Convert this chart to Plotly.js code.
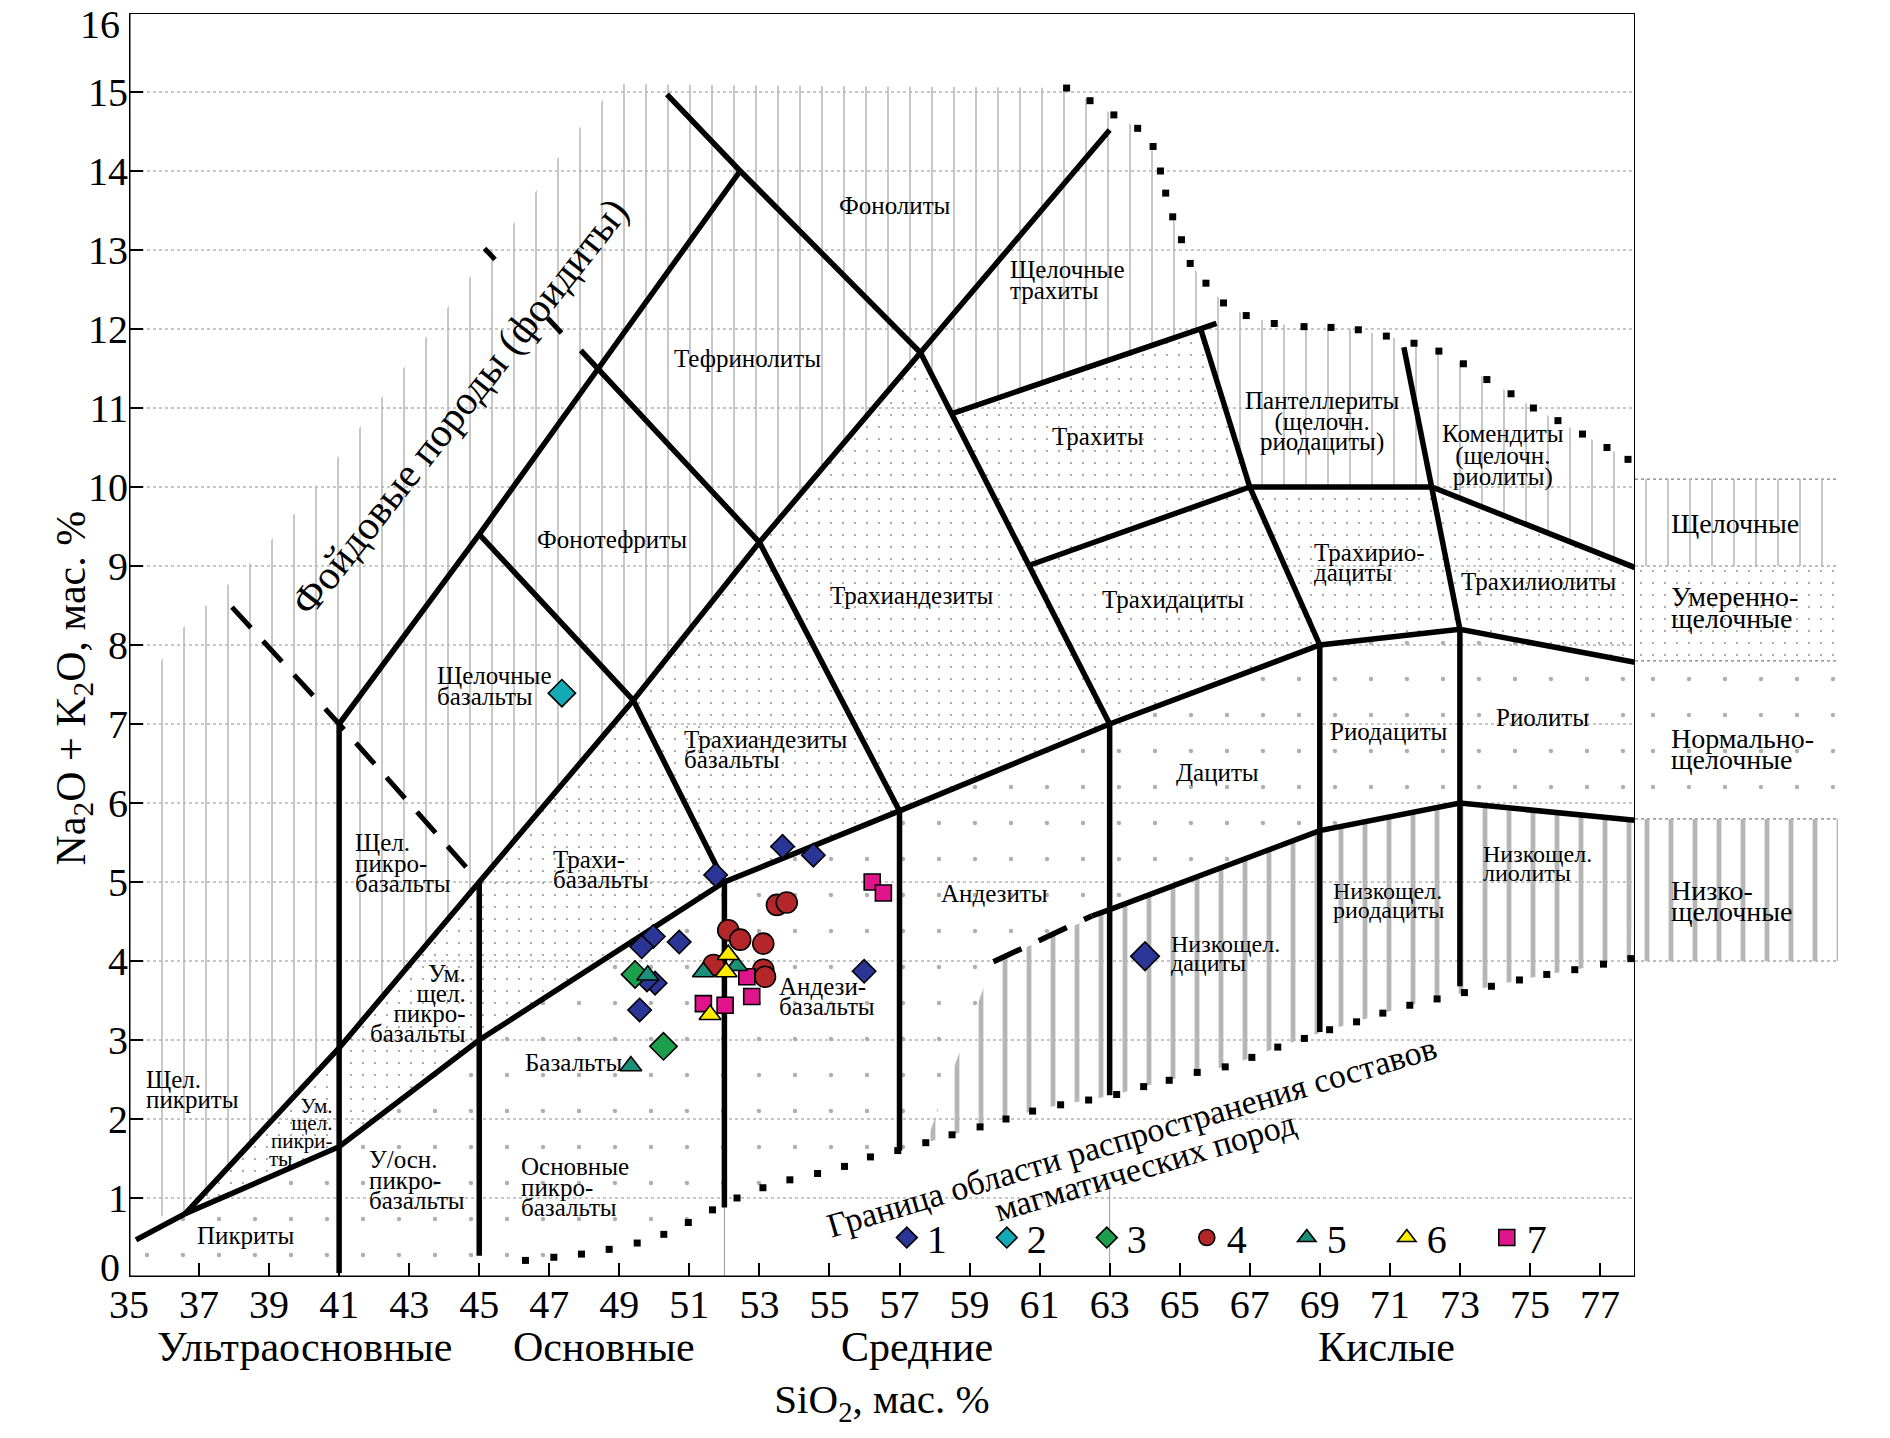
<!DOCTYPE html>
<html><head><meta charset="utf-8">
<script src="https://cdn.plot.ly/plotly-3.0.1.min.js"></script>
<style>html,body{margin:0;padding:0;background:#fff;}#chart{width:1890px;height:1438px;}</style>
</head><body><div id="chart"></div>
<script>
const FONT = 'Liberation Serif, Times New Roman, serif';

// ---------- axis ticks ----------
const xTickVals = [35,37,39,41,43,45,47,49,51,53,55,57,59,61,63,65,67,69,71,73,75,77];
const yTickVals = [1,2,3,4,5,6,7,8,9,10,11,12,13,14,15];
const yEdgeLabels = ['0', '16'];
const gridY = [1,2,3,4,5,6,7,8,9,10,11,12,13,14,15];

// ---------- TAS boundary polylines ----------
const lowAlkX = [35.2, 36.6, 41, 45, 52, 57, 63, 69, 73, 78];
const lowAlkY = [0.47, 0.8, 1.65, 3.0, 5.0, 5.9, 7.0, 8.0, 8.2, 7.78];
const alkX = [36.6, 41, 45, 49.4, 53, 57.6, 63];
const alkY = [0.8, 2.9, 5.0, 7.3, 9.3, 11.7, 14.52];
const foidUpperX = [41, 45, 48.4, 52.45];
const foidUpperY = [7.0, 9.4, 11.5, 14.0];
const phonoX = [50.36, 52.45, 57.6];
const phonoY = [14.97, 14.0, 11.7];
const trachyteLeftX = [57.6, 63];
const trachyteLeftY = [11.7, 7.0];
const tephX = [45, 49.4, 52];
const tephY = [9.4, 7.3, 5.0];
const tephPhX = [47.9, 53, 57];
const tephPhY = [11.73, 9.3, 5.9];
const vertX = [41, 45, 52, 57, 63, 69, 73];
const vertTop = [7.0, 5.0, 5.0, 5.9, 7.0, 8.0, 8.2];
const vertBottom = [0.05, 0.27, 0.88, 1.6, 2.3, 3.1, 3.68];
const trachyteTopX = [58.5, 66.05];
const trachyteTopY = [10.93, 12.07];
const pantX = [65.6, 67];
const pantY = [12.0, 10.0];
const alkRightX = [67, 72.2, 78];
const alkRightY = [10.0, 10.0, 8.98];
const trachydaciteTopX = [60.65, 67];
const trachydaciteTopY = [9.0, 10.0];
const rhyoDivX = [67, 69];
const rhyoDivY = [10.0, 8.0];
const komX = [71.4, 72.2, 73];
const komY = [11.77, 10.0, 8.2];
const lowKDashX = [59.68, 62.49];
const lowKDashY = [3.99, 4.57];
const lowKX = [62.49, 63, 69, 73, 78];
const lowKY = [4.57, 4.65, 5.65, 6.0, 5.78];
const foidDashX = [37.94, 41, 45];
const foidDashY = [8.48, 7.0, 5.0];
const foidFragX = [45.15, 45.45, null, 46.95, 47.35];
const foidFragY = [13.02, 12.88, null, 12.14, 11.95];

// dotted boundaries of the field of igneous rock compositions
const upperDotX = [61.77, 62.44, 63.12, 63.8, 64.24, 64.45, 64.6, 64.8, 65.05, 65.3, 65.75, 66.25, 66.9, 67.7, 68.55, 69.32, 70.1, 70.9, 71.69, 72.4, 73.1, 73.77, 74.46, 75.1, 75.8, 76.5, 77.2, 77.8];
const upperDotY = [15.05, 14.89, 14.71, 14.54, 14.31, 14.0, 13.72, 13.42, 13.13, 12.83, 12.58, 12.33, 12.17, 12.07, 12.03, 12.02, 11.99, 11.91, 11.82, 11.72, 11.56, 11.36, 11.18, 11.0, 10.84, 10.67, 10.5, 10.35];
const lowerDotX = [46.32, 47.13, 47.92, 48.71, 49.51, 50.27, 50.97, 51.66, 52.36, 53.1, 53.87, 54.66, 55.43, 56.17, 56.95, 57.75, 58.5, 59.3, 60.04, 60.8, 61.6, 62.4, 63.2, 63.97, 64.7, 65.5, 66.3, 67.06, 67.8, 68.56, 69.28, 70.05, 70.8, 71.57, 72.35, 73.13, 73.9, 74.7, 75.48, 76.28, 77.1, 77.88];
const lowerDotY = [0.21, 0.25, 0.29, 0.35, 0.43, 0.54, 0.69, 0.85, 1.0, 1.13, 1.23, 1.31, 1.40, 1.52, 1.6, 1.70, 1.8, 1.9, 2.0, 2.1, 2.18, 2.24, 2.31, 2.41, 2.49, 2.59, 2.66, 2.78, 2.91, 3.02, 3.13, 3.23, 3.34, 3.44, 3.52, 3.6, 3.68, 3.76, 3.83, 3.89, 3.96, 4.03];

// ---------- series zones (pattern outlines) ----------
const foidEdgeX = [48.9, 47.6, 46.1, 44.8, 42.5, 40.0, 38.5, 36.5, 35.35, 35.35];
const foidEdgeY = [15.1, 14.4, 13.4, 12.7, 11.3, 9.8, 9.05, 8.2, 7.4, 0.75];
const alkZoneX = [36.6, 41, 45, 49.4, 53, 57.6, 58.5, 65.6, 67, 72.2, 78, 78].concat(upperDotX.slice().reverse(), foidEdgeX);
const alkZoneY = [0.8, 2.9, 5.0, 7.3, 9.3, 11.7, 10.93, 12.03, 10.0, 10.0, 8.98, 10.35].concat(upperDotY.slice().reverse(), foidEdgeY);
const modZoneX = [36.6, 41, 45, 49.4, 53, 57.6, 58.5, 65.6, 67, 72.2, 78, 78, 73, 69, 63, 57, 52, 45, 41];
const modZoneY = [0.8, 2.9, 5.0, 7.3, 9.3, 11.7, 10.93, 12.03, 10.0, 10.0, 8.98, 7.78, 8.2, 8.0, 7.0, 5.9, 5.0, 3.0, 1.65];
const normZoneX = lowAlkX.concat([78, 73, 69, 63, 59.68], lowerDotX.slice(0, 16).reverse(), [35.2]);
const normZoneY = lowAlkY.concat([5.78, 6.0, 5.65, 4.65, 3.99], lowerDotY.slice(0, 16).reverse(), [0.2]);
const lowZoneX = [57.75, 59.68, 63, 69, 73, 78].concat(lowerDotX.slice(15).reverse());
const lowZoneY = [1.70, 3.99, 4.65, 5.65, 6.0, 5.78].concat(lowerDotY.slice(15).reverse());
// side scale boxes (Na2O+K2O limits of series)
const boxX = [78, 83.8, 83.8, 78];
const boxAlkY = [9.0, 9.0, 10.1, 10.1];
const boxModY = [7.8, 7.8, 9.0, 9.0];
const boxNormY = [5.8, 5.8, 7.8, 7.8];
const boxLowY = [4.0, 4.0, 5.8, 5.8];
const boxLines = [10.1, 9.0, 7.8, 5.8, 4.0];

// ---------- sample compositions ----------
const s1x = [51.75, 53.66, 54.54, 49.97, 49.64, 50.71, 50.02, 49.79, 49.58, 55.99, 64.01];
const s1y = [5.09, 5.45, 5.34, 4.31, 4.18, 4.24, 3.72, 3.76, 3.38, 3.87, 4.06];
const s2x = [47.36];
const s2y = [7.39];
const s3x = [49.45, 50.26];
const s3y = [3.83, 2.92];
const s4x = [53.5, 53.78, 52.11, 52.45, 53.11, 51.69, 53.11, 53.16];
const s4y = [4.71, 4.74, 4.39, 4.27, 4.22, 3.95, 3.89, 3.80];
const s5x = [49.81, 51.4, 52.35, 49.33];
const s5y = [3.82, 3.86, 3.94, 2.67];
const s6x = [52.11, 52.05, 51.59];
const s6y = [4.08, 3.86, 3.32];
const s7x = [56.22, 56.54, 51.4, 52.02, 52.78, 52.64];
const s7y = [5.0, 4.86, 3.46, 3.44, 3.55, 3.8];

// ---------- build traces ----------
const traces = [];
function zone(x, y, shape, size, sol, color, xa) {
  traces.push({type:'scatter', mode:'lines', x:x, y:y, xaxis: xa || 'x', fill:'toself',
    fillcolor:'rgba(0,0,0,0)', line:{width:0, color:'rgba(0,0,0,0)'},
    fillpattern:{shape:shape, size:size, solidity:sol, fgcolor:color, bgcolor:'rgba(0,0,0,0)'},
    hoverinfo:'skip', showlegend:false});
}
const PAT = {
  alk: ['|', 22, 0.07, '#b8b8b8'],
  mod: ['.', 12, 0.02, '#8a8a8a'],
  norm: ['.', 36, 0.012, '#b0b0b0'],
  low: ['|', 24, 0.2, '#b6b6b6']
};
zone(alkZoneX, alkZoneY, ...PAT.alk);
zone(modZoneX, modZoneY, ...PAT.mod);
zone(normZoneX, normZoneY, ...PAT.norm);
zone(lowZoneX, lowZoneY, ...PAT.low);
zone(boxX, boxAlkY, ...PAT.alk, 'x2');
zone(boxX, boxModY, ...PAT.mod, 'x2');
zone(boxX, boxNormY, ...PAT.norm, 'x2');
zone(boxX, boxLowY, ...PAT.low, 'x2');

function line(x, y, w, dash) {
  traces.push({type:'scatter', mode:'lines', x:x, y:y, line:{color:'#000', width:w, dash:dash || 'solid'},
    hoverinfo:'skip', showlegend:false, connectgaps:false});
}
const LW = 5.5;
line(lowAlkX, lowAlkY, LW);
line(alkX, alkY, LW);
line(foidUpperX, foidUpperY, LW);
line(phonoX, phonoY, LW);
line(trachyteLeftX, trachyteLeftY, LW);
line(tephX, tephY, LW);
line(tephPhX, tephPhY, LW);
vertX.forEach((v, i) => line([v, v], [vertTop[i], vertBottom[i]], LW));
line(trachyteTopX, trachyteTopY, LW);
line(pantX, pantY, LW);
line(alkRightX, alkRightY, LW);
line(trachydaciteTopX, trachydaciteTopY, LW);
line(rhyoDivX, rhyoDivY, LW);
line(komX, komY, LW);
line(lowKDashX, lowKDashY, LW, '31px,19px');
line(lowKX, lowKY, LW);
line(foidDashX, foidDashY, 5, '28px,18px');
line(foidFragX, foidFragY, 5);

function dots(x, y) {
  traces.push({type:'scatter', mode:'markers', x:x, y:y, marker:{symbol:'square', size:7, color:'#000', opacity:1},
    hoverinfo:'skip', showlegend:false});
}
dots(upperDotX, upperDotY);
dots(lowerDotX, lowerDotY);

function series(name, x, y, symbol, color, size, rank) {
  traces.push({type:'scatter', mode:'markers', name:name, x:x, y:y, legendrank:rank,
    marker:{symbol:symbol, color:color, size:size, opacity:1, line:{color:'#000', width:1.6}},
    hoverinfo:'skip', showlegend:true});
}
series('1', s1x, s1y, 'diamond', '#2b3596', s1x.map((v, i) => i === s1x.length - 1 ? 22 : 18), 1);
series('3', s3x, s3y, 'diamond', '#1c9f4c', 21, 3);
series('4', s4x, s4y, 'circle', '#b3262a', 21, 4);
series('7', s7x, s7y, 'square', '#e0158c', 16, 7);
series('5', s5x, s5y, 'triangle-up', '#1b8f78', 19, 5);
series('6', s6x, s6y, 'triangle-up', '#ffec00', 19, 6);
series('2', s2x, s2y, 'diamond', '#14a9b6', 21, 2);

// ---------- shapes ----------
const shapes = [];
gridY.forEach(v => shapes.push({type:'line', xref:'x', yref:'y', x0:35, x1:78, y0:v, y1:v,
  line:{color:'#8c8c8c', width:1, dash:'dot'}, layer:'below'}));
boxLines.forEach(v => shapes.push({type:'line', xref:'x2', yref:'y', x0:78, x1:83.8, y0:v, y1:v,
  line:{color:'#7a7a7a', width:1.2, dash:'dot'}, layer:'below'}));
shapes.push({type:'line', xref:'x', yref:'y', x0:52, x1:52, y0:0, y1:0.9, line:{color:'#999', width:1}, layer:'below'});
shapes.push({type:'line', xref:'x', yref:'y', x0:63, x1:63, y0:0, y1:1.2, line:{color:'#999', width:1}, layer:'below'});
// frame
shapes.push({type:'line', xref:'x', yref:'y', x0:35, x1:35, y0:0, y1:16, line:{color:'#000', width:3}});
shapes.push({type:'line', xref:'x', yref:'y', x0:35, x1:78, y0:0, y1:0, line:{color:'#000', width:3}});
shapes.push({type:'line', xref:'x', yref:'y', x0:35, x1:78, y0:16, y1:16, line:{color:'#000', width:2.2}});
shapes.push({type:'line', xref:'x', yref:'y', x0:78, x1:78, y0:0, y1:16, line:{color:'#000', width:2}});

// ---------- annotations ----------
const PX_PER_UNIT = 1264 / 16;
const ann = [];
const lineGapPx = {};   // annotation index -> wanted line pitch in px (tight leading as in the original)
function lbl(lines, x, y0, dy, anchor, size, xref) {
  const n = lines.length;
  if (n > 1) lineGapPx[ann.length] = dy * PX_PER_UNIT;
  ann.push({xref: xref || 'x', yref:'y', x:x, y:y0 - (n - 1) * dy / 2, text:lines.join('<br>'),
    xanchor:anchor, align:anchor, yanchor:'middle', showarrow:false,
    font:{family:FONT, size:size || 25, color:'#000'}});
}
lbl(['Фонолиты'], 56.86, 13.56, 0, 'center');
lbl(['Щелочные', 'трахиты'], 60.11, 12.75, 0.26, 'left');
lbl(['Тефринолиты'], 52.65, 11.63, 0, 'center');
lbl(['Трахиты'], 62.66, 10.64, 0, 'center');
lbl(['Пантеллериты', '(щелочн.', 'риодациты)'], 69.05, 11.08, 0.255, 'center');
lbl(['Комендиты', '(щелочн.', 'риолиты)'], 74.22, 10.67, 0.27, 'center');
lbl(['Фонотефриты'], 48.78, 9.33, 0, 'center');
lbl(['Трахиандезиты'], 57.37, 8.63, 0, 'center');
lbl(['Трахидациты'], 64.81, 8.58, 0, 'center');
lbl(['Трахирио-', 'дациты'], 68.78, 9.16, 0.25, 'left');
lbl(['Трахилиолиты'], 75.27, 8.8, 0, 'center');
lbl(['Щелочные', 'базальты'], 43.73, 7.62, 0.27, 'left');
lbl(['Трахиандезиты', 'базальты'], 50.78, 6.8, 0.25, 'left');
lbl(['Риодациты'], 70.98, 6.9, 0, 'center');
lbl(['Риолиты'], 75.35, 7.08, 0, 'center');
lbl(['Дациты'], 66.08, 6.38, 0, 'center');
lbl(['Щел.', 'пикро-', 'базальты'], 41.39, 5.49, 0.255, 'left');
lbl(['Трахи-', 'базальты'], 47.06, 5.28, 0.25, 'left');
lbl(['Андезиты'], 59.71, 4.86, 0, 'center');
lbl(['Низкощел.', 'лиолиты'], 73.59, 5.36, 0.24, 'left', 24);
lbl(['Низкощел.', 'риодациты'], 69.32, 4.89, 0.24, 'left', 24);
lbl(['Низкощел.', 'дациты'], 64.69, 4.21, 0.24, 'left', 24);
lbl(['Ум.', 'щел.', 'пикро-', 'базальты'], 44.67, 3.84, 0.255, 'right');
lbl(['Андези-', 'базальты'], 53.49, 3.67, 0.25, 'left');
lbl(['Базальты'], 49.13, 2.71, 0, 'right');
lbl(['Щел.', 'пикриты'], 35.43, 2.49, 0.25, 'left');
lbl(['Ум.', 'щел.', 'пикри-'], 40.85, 2.17, 0.225, 'right', 21);
lbl(['ты'], 38.94, 1.5, 0, 'left', 21);
lbl(['У/осн.', 'пикро-', 'базальты'], 41.8, 1.48, 0.255, 'left');
lbl(['Основные', 'пикро-', 'базальты'], 46.13, 1.4, 0.26, 'left');
lbl(['Пикриты'], 38.34, 0.52, 0, 'center');
lbl(['Щелочные'], 78.97, 9.54, 0, 'left', 28, 'x2');
lbl(['Умеренно-', 'щелочные'], 78.97, 8.61, 0.28, 'left', 28, 'x2');
lbl(['Нормально-', 'щелочные'], 78.97, 6.82, 0.27, 'left', 28, 'x2');
lbl(['Низко-', 'щелочные'], 78.97, 4.9, 0.27, 'left', 28, 'x2');

ann.push({xref:'x', yref:'y', x:44.45, y:11.02, text:'Фойдовые породы (фоидиты)', textangle:-51.8,
  showarrow:false, font:{family:FONT, size:41, color:'#000'}});
ann.push({xref:'x', yref:'y', x:63.65, y:1.78, text:'Граница области распространения составов', textangle:-16.5,
  showarrow:false, font:{family:FONT, size:34, color:'#000'}});
ann.push({xref:'x', yref:'y', x:64.0, y:1.4, text:'магматических пород', textangle:-16.5,
  showarrow:false, font:{family:FONT, size:34, color:'#000'}});

const groupNames = ['Ультраосновные', 'Основные', 'Средние', 'Кислые'];
const groupX = [40.02, 48.56, 57.51, 70.9];
groupNames.forEach((t, i) => ann.push({xref:'x', yref:'paper', x:groupX[i], y:-0.055, text:t,
  showarrow:false, xanchor:'center', yanchor:'middle', font:{family:FONT, size:42, color:'#000'}}));

// end tick labels of the y axis, nudged inside the figure as in the original
ann.push({xref:'paper', yref:'y', x:-0.004, y:15.86, text:yEdgeLabels[1], xanchor:'right', yanchor:'middle',
  showarrow:false, font:{family:FONT, size:40, color:'#000'}});
ann.push({xref:'paper', yref:'y', x:-0.004, y:0.12, text:yEdgeLabels[0], xanchor:'right', yanchor:'middle',
  showarrow:false, font:{family:FONT, size:40, color:'#000'}});

ann.push({xref:'paper', yref:'paper', x:-0.0322, y:0.466, xanchor:'center', yanchor:'middle',
  text:'Na<sub>2</sub>O + K<sub>2</sub>O, мас. %', textangle:-90, showarrow:false,
  font:{family:FONT, size:42, color:'#000'}});

const layout = {
  width:1890, height:1438,
  margin:{l:129, r:38, t:13, b:161, pad:0, autoexpand:false},
  paper_bgcolor:'#fff', plot_bgcolor:'#fff',
  font:{family:FONT, color:'#000'},
  showlegend:true,
  legend:{orientation:'h', x:0.4398, y:0.0312, xanchor:'left', yanchor:'middle',
    font:{family:FONT, size:40, color:'#000'}, bgcolor:'rgba(0,0,0,0)',
    entrywidth:55, entrywidthmode:'pixels', traceorder:'normal'},
  xaxis:{domain:[0, 0.87406], range:[35, 78], tickvals:xTickVals, ticktext:xTickVals.map(String),
    ticks:'inside', ticklen:14, tickwidth:2, tickcolor:'#000', showline:false, showgrid:false, zeroline:false,
    tickfont:{family:FONT, size:40, color:'#000'}, fixedrange:true,
    title:{text:'SiO<sub>2</sub>, мас. %', font:{family:FONT, size:41, color:'#000'}, standoff:58}},
  xaxis2:{domain:[0.87406, 1], range:[78, 84.2], anchor:'y', visible:false, fixedrange:true},
  yaxis:{domain:[0, 1], range:[0, 16], tickvals:yTickVals, ticktext:yTickVals.map(String),
    ticks:'inside', ticklen:14, tickwidth:2, tickcolor:'#000', showline:false, showgrid:false, zeroline:false,
    tickfont:{family:FONT, size:40, color:'#000'}, fixedrange:true},
  shapes:shapes,
  annotations:ann,
  hovermode:false
};

// tighten the leading of multi-line labels (the original uses very close line spacing)
function tightenLeading() {
  try {
    document.querySelectorAll('#chart g.annotation').forEach(g => {
      const idx = +g.getAttribute('data-index');
      const gap = lineGapPx[idx];
      if (!gap) return;
      const t = g.querySelector('text.annotation-text');
      if (!t) return;
      const lines = t.querySelectorAll('tspan.line');
      const n = lines.length;
      const want = ann[idx].text.split('<br>').length;
      if (n < 2 || n !== want) return;
      const fs = ann[idx].font.size;
      const off = (n - 1) * (1.3 * fs - gap) / 2;
      lines.forEach((ln, i) => ln.setAttribute('dy', (off + i * gap).toFixed(2) + 'px'));
    });
  } catch (e) { /* keep Plotly's default leading */ }
}
Plotly.newPlot('chart', traces, layout, {displayModeBar:false, staticPlot:true}).then(gd => {
  tightenLeading();
  gd.on('plotly_afterplot', tightenLeading);
});
</script></body></html>
